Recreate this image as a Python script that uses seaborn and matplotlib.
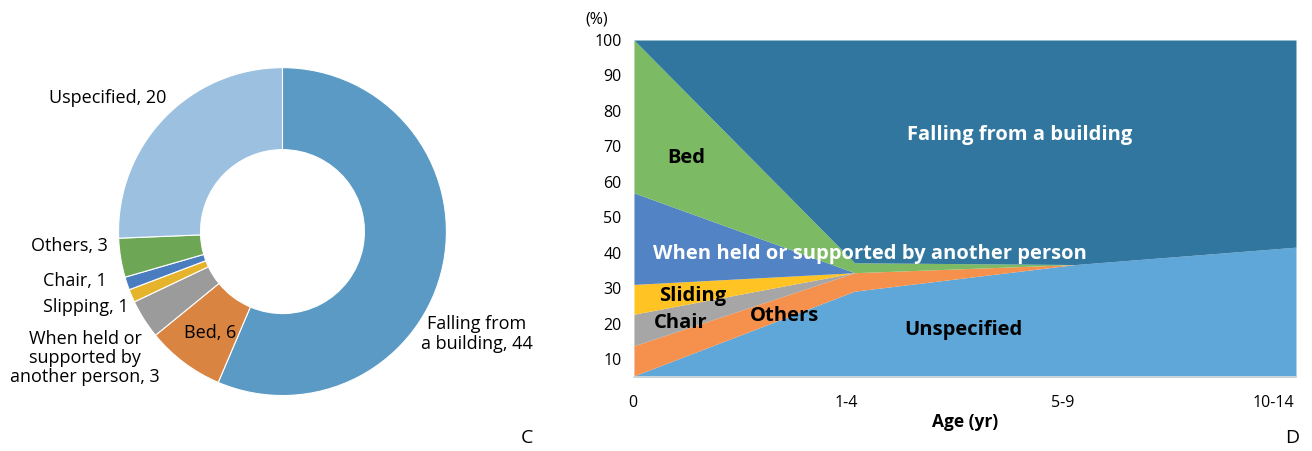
import numpy as np
import pandas as pd
import matplotlib
matplotlib.use('Agg')
import matplotlib.pyplot as plt
from matplotlib.transforms import ScaledTranslation
import seaborn as sns

# panel C - donut
pie_labels = ['Falling from\na building, 44', 'Bed, 6', 'When held or\nsupported by\nanother person, 3',
              'Slipping, 1', 'Chair, 1', 'Others, 3', 'Uspecified, 20']
pie_values = [44, 6, 3, 1, 1, 3, 20]
pie_colors = ['#5B9AC4', '#D98441', '#9B9B9B', '#E6B42C', '#4A7DBF', '#6DA755', '#9BC0E0']

# panel D - stacked area (% by age group)
ages = ['0', '1-4', '5-9', '10-14']
causes = ['Unspecified', 'Others', 'Chair', 'Sliding',
          'When held or supported by another person', 'Bed', 'Falling from a building']
unspecified = [5.3, 29.2, 36.7, 41.6]
others = [8.5, 5.2, 0, 0]
chair = [8.9, 0, 0, 0]
sliding = [8.4, 0, 0, 0]
held = [25.8, 0, 0, 0]
bed = [43.1, 2.8, 0, 0]
falling = [0, 62.8, 63.3, 58.4]
area_colors = ['#5FA6D9', '#F5914C', '#A6A6A6', '#FFC324', '#5283C4', '#7CBA64', '#31769F']

sns.set_theme(style='white')
plt.rcParams['font.family'] = ['Open Sans', 'DejaVu Sans']
plt.rcParams['text.color'] = 'black'
plt.rcParams['axes.labelcolor'] = 'black'
plt.rcParams['xtick.color'] = 'black'
plt.rcParams['ytick.color'] = 'black'

df = pd.DataFrame({'Unspecified': unspecified, 'Others': others, 'Chair': chair,
                   'Sliding': sliding, 'When held or supported by another person': held,
                   'Bed': bed, 'Falling from a building': falling}, index=ages)

fig = plt.figure(figsize=(13.12, 4.51), dpi=100)

# donut
ax1 = fig.add_axes([0.0903, 0.123, 0.25, 0.727])
ax1.pie(pie_values, colors=pie_colors, startangle=90, counterclock=False, radius=1,
        wedgeprops=dict(width=0.5, edgecolor='white', linewidth=0.8))
ax1.set_xlim(-1, 1)
ax1.set_ylim(-1, 1)
ax1.set_aspect('equal')
ax1.axis('off')
fs = 13
ax1.text(-0.71, 0.814, pie_labels[6], ha='right', va='center', fontsize=fs, clip_on=False)
ax1.text(-1.064, -0.088, pie_labels[5], ha='right', va='center', fontsize=fs, clip_on=False)
ax1.text(-1.07, -0.30, pie_labels[4], ha='right', va='center', fontsize=fs, clip_on=False)
ax1.text(-0.94, -0.46, pie_labels[3], ha='right', va='center', fontsize=fs, clip_on=False)
ax1.text(-1.204, -0.771, pie_labels[2], ha='center', va='center', fontsize=fs,
         linespacing=1.1, clip_on=False)
ax1.text(-0.442, -0.619, pie_labels[1], ha='center', va='center', fontsize=fs, clip_on=False)
ax1.text(1.186, -0.625, pie_labels[0], ha='center', va='center', fontsize=fs,
         linespacing=1.1, clip_on=False)

# stacked area
ax2 = fig.add_axes([0.4832, 0.1641, 0.5046, 0.7472])
x = np.arange(len(ages))
ax2.stackplot(x, *[df[c].values for c in causes], colors=area_colors, linewidth=0)
ax2.set_xlim(0, 3)
ax2.set_ylim(5, 100)
ax2.set_yticks(range(10, 101, 10))
ax2.set_xticks(x)
ax2.set_xticklabels(ages)
ax2.tick_params(axis='both', length=0, labelsize=11.5)
ax2.tick_params(axis='x', pad=13)
ax2.tick_params(axis='y', pad=9)
# category labels sit a bit left of the data points, like the original
for lab, dx in zip(ax2.get_xticklabels(), [-1, -8, -13, -23]):
    lab.set_transform(lab.get_transform() + ScaledTranslation(dx / 100, 0, fig.dpi_scale_trans))
sns.despine(ax=ax2, left=True, top=True, right=True)
ax2.spines['bottom'].set_color('#D9D9D9')
ax2.set_xlabel('Age (yr)', fontsize=12.5, fontweight='bold')
ax2.xaxis.set_label_coords(0.5, -0.108)
ax2.text(-0.057, 1.06, '(%)', transform=ax2.transAxes, ha='center', va='center', fontsize=11.5)

lfs = 14.5
ax2.text(1.749, 73.2, 'Falling from a building', ha='center', va='center', fontsize=lfs,
         fontweight='bold', color='white')
ax2.text(0.236, 66.7, 'Bed', ha='center', va='center', fontsize=lfs, fontweight='bold')
ax2.text(1.07, 39.7, 'When held or supported by another person', ha='center', va='center',
         fontsize=lfs, fontweight='bold', color='white')
ax2.text(0.267, 27.8, 'Sliding', ha='center', va='center', fontsize=lfs, fontweight='bold')
ax2.text(0.213, 20.2, 'Chair', ha='center', va='center', fontsize=lfs, fontweight='bold')
ax2.text(0.684, 22.2, 'Others', ha='center', va='center', fontsize=lfs, fontweight='bold')
ax2.text(1.491, 18.2, 'Unspecified', ha='center', va='center', fontsize=lfs, fontweight='bold')

fig.text(0.402, 0.029, 'C', ha='center', va='center', fontsize=14)
fig.text(0.985, 0.029, 'D', ha='center', va='center', fontsize=14)

fig.savefig('out.png', dpi=100)
